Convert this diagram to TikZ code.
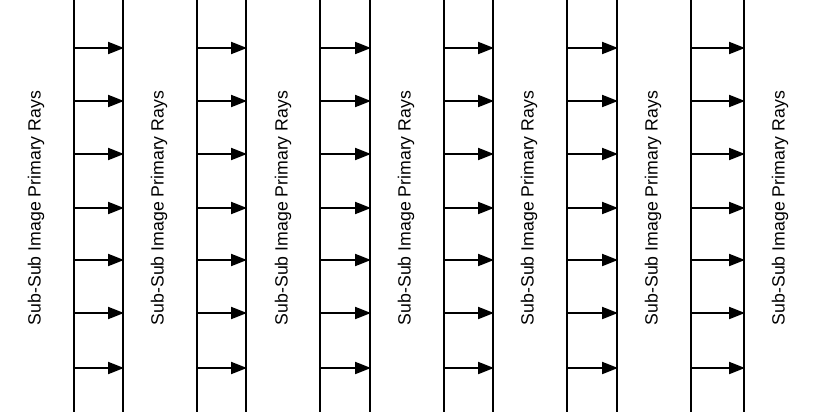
\documentclass[tikz,border=0pt]{standalone}
\usepackage{fontspec}
\setmainfont{Liberation Sans}
\usetikzlibrary{arrows.meta}
\begin{document}
\begin{tikzpicture}[x=1pt,y=-1pt,
  wall/.style={line width=2pt},
  ray/.style={line width=2pt,-{Triangle[length=16pt,width=12pt]}},
  lbl/.style={rotate=90,inner sep=0pt,font=\fontsize{17.7}{20}\selectfont}]
\useasboundingbox (0,0) rectangle (813,412);
\foreach \l/\r [count=\i] in {74/123,197/246,320/370,444/493,567/617,691/744}{
  \coordinate (t\i l) at (\l,0); \coordinate (b\i l) at (\l,412);
  \coordinate (t\i r) at (\r,0); \coordinate (b\i r) at (\r,412);
  \draw[wall] (t\i l) -- (b\i l);
  \draw[wall] (t\i r) -- (b\i r);
  \foreach \y [count=\j] in {48,101,154,208,260,313,368}{
    \coordinate (s\i-\j) at (\l,\y);
    \coordinate (e\i-\j) at (\r+1,\y);
    \draw[ray] (s\i-\j) -- (e\i-\j);
  }
}
\foreach \x [count=\k] in {36,159,283,406,529,653,780}{
  \node[lbl] (txt\k) at (\x,208) {Sub-Sub Image Primary Rays};
}
\end{tikzpicture}
\end{document}
